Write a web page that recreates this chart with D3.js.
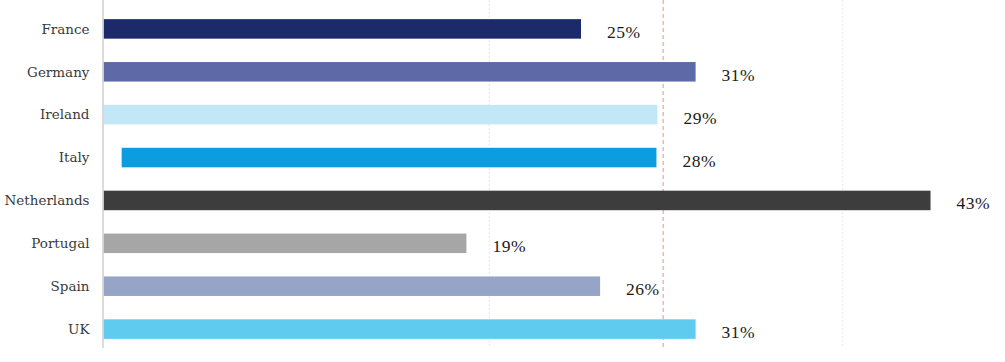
<!DOCTYPE html>
<html>
<head>
<meta charset="utf-8">
<script src="https://cdn.jsdelivr.net/npm/d3@7"></script>
<style>
  body { margin: 0; background: #fff; }
  svg { display: block; }
</style>
</head>
<body>
<svg id="chart"></svg>
<script>
// data
var countries = ["France", "Germany", "Ireland", "Italy", "Netherlands", "Portugal", "Spain", "UK"];
var shares    = [25, 31, 29, 28, 43.3, 19, 26, 31];
var offsets   = [0, 0, 0, 0.95, 0, 0, 0, 0];   // Italy's bar does not start at zero
var colors    = ["#1c2a6b", "#5e6aa8", "#c2e8f7", "#0a9de0", "#3d3d3d", "#a6a6a6", "#96a4c7", "#5ecbef"];
var gridVals  = [20.2, 38.7];
var meanVal   = [29.3];

var width = 1005, height = 362;
var svg = d3.select("#chart")
    .attr("width", width)
    .attr("height", height);

var x = d3.scaleLinear()
    .domain([0, 10])
    .range([103.5, 294.5]);

var y = d3.scaleBand()
    .domain(countries)
    .range([5, 353])
    .paddingInner(0.545)
    .paddingOuter(0.33);

var plotTop = 0, plotBottom = 348;

// faint dotted gridlines
svg.selectAll(".grid")
    .data(gridVals)
  .enter().append("line")
    .attr("class", "grid")
    .attr("x1", function(d){ return x(d); })
    .attr("x2", function(d){ return x(d); })
    .attr("y1", plotTop)
    .attr("y2", plotBottom)
    .attr("stroke", "#e6e6e6")
    .attr("stroke-width", 1)
    .attr("stroke-dasharray", "2,2");

// red dashed mean line
svg.selectAll(".mean")
    .data(meanVal)
  .enter().append("line")
    .attr("class", "mean")
    .attr("x1", function(d){ return x(d); })
    .attr("x2", function(d){ return x(d); })
    .attr("y1", plotTop)
    .attr("y2", plotBottom)
    .attr("stroke", "#ec8f8f")
    .attr("stroke-width", 1)
    .attr("stroke-dasharray", "4,3");

// bars
svg.selectAll(".bar")
    .data(countries)
  .enter().append("rect")
    .attr("class", "bar")
    .attr("x", function(d, i){ return x(offsets[i]); })
    .attr("y", function(d){ return y(d); })
    .attr("width", function(d, i){ return x(offsets[i] + shares[i]) - x(offsets[i]); })
    .attr("height", y.bandwidth())
    .attr("fill", function(d, i){ return colors[i]; });

// value labels
svg.selectAll(".val")
    .data(countries)
  .enter().append("text")
    .attr("class", "val")
    .attr("x", function(d, i){ return x(offsets[i] + shares[i]) + 26; })
    .attr("y", function(d){ return y(d) + y.bandwidth() / 2 + 9; })
    .style("font-family", "'Liberation Serif'")
    .style("font-size", "17.5px")
    .style("letter-spacing", "0.5px")
    .attr("fill", "#1a1a1a")
    .text(function(d, i){ return Math.round(shares[i]) + "%"; });

// y axis
var yAxis = d3.axisLeft(y).tickSize(0).tickPadding(14);
var ga = svg.append("g")
    .attr("transform", "translate(" + x(0) + ",0)")
    .call(yAxis);
ga.select(".domain").remove();
ga.selectAll("text")
    .style("font-family", "'DejaVu Serif'")
    .style("font-size", "13.5px")
    .attr("fill", "#3a3a3a")
    .attr("dy", "0.35em");

svg.append("line")
    .attr("x1", x(0) - 0.5)
    .attr("x2", x(0) - 0.5)
    .attr("y1", plotTop)
    .attr("y2", plotBottom)
    .attr("stroke", "#cfcfcf")
    .attr("stroke-width", 1.5);
</script>
</body>
</html>
